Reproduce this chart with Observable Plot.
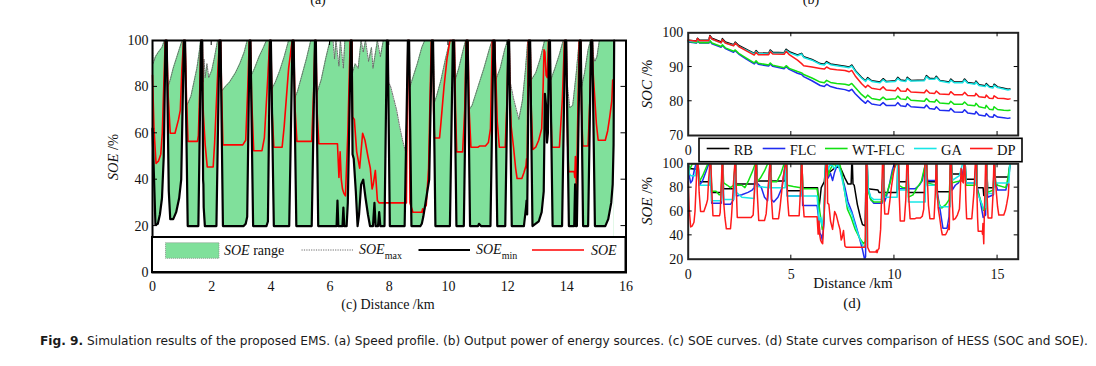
<!DOCTYPE html>
<html><head><meta charset="utf-8">
<script src="https://cdn.jsdelivr.net/npm/d3@7"></script>
<script src="https://cdn.jsdelivr.net/npm/@observablehq/plot@0.6"></script>
<style>
html,body{margin:0;padding:0;background:#fff;}
#root{position:relative;width:1096px;height:366px;overflow:hidden;background:#fff;}
.layer{position:absolute;left:0;top:0;}
.layer svg{display:block;}
</style></head><body><div id="root"></div>
<script>
// ---------- tick values ----------
const xTicksC = [0,2,4,6,8,10,12,14,16];
const yTicksC = [0,20,40,60,80,100];
const xTicksR = [0,5,10,15];
const xLabelsSOC = [0];            // the other SOC tick labels are hidden by the legend box
const yTicksSOC = [70,80,90,100];
const yTicksSOE = [20,40,60,80,100];
const seriesNames = ["RB","FLC","WT-FLC","GA","DP"];
const seriesColors = ["#000000","#1f2cf0","#12e012","#18e6e6","#ff1a1a"];

// ---------- (c) SOE curves: [distance km, value %] ----------
const soeMax = [[0,100],[0.02,90],[0.1,93],[0.2,95],[0.32,97],[0.4,100],[0.49,100],
[0.52,80],[0.6,83],[0.7,88],[0.8,92],[0.9,96],[1.0,100],[1.11,100],
[1.14,72],[1.2,73],[1.3,76],[1.4,82],[1.5,88],[1.58,95],[1.63,100],[1.69,100],
[1.71,82],[1.74,92],[1.78,84],[1.84,90],[1.9,84],[2.0,87],[2.1,93],[2.2,100],[2.31,100],
[2.33,78],[2.45,80],[2.6,82],[2.8,86],[2.95,90],[3.1,95],[3.2,100],[3.32,100],
[3.34,85],[3.45,88],[3.6,93],[3.75,97],[3.85,100],[4.01,100],
[4.03,79],[4.15,82],[4.3,87],[4.45,93],[4.6,100],[4.78,100],
[4.8,75],[4.9,78],[5.05,85],[5.2,92],[5.35,100],[5.53,100],
[5.55,77],[5.7,83],[5.85,92],[6.0,100],[6.1,100],[6.15,92],[6.2,100],[6.3,89],[6.35,100],[6.45,88],[6.5,100],[6.74,100],
[6.76,86],[6.85,90],[6.95,88],[7.05,100],[7.12,95],[7.2,100],[7.3,91],[7.4,97],[7.45,88],[7.55,96],[7.6,100],[7.7,93],[7.8,100],[7.96,100],
[7.98,82],[8.05,80],[8.15,75],[8.25,70],[8.35,63],[8.45,57],[8.55,52],[8.6,70],[8.63,100],[8.68,100],
[8.7,80],[8.8,84],[8.95,90],[9.1,97],[9.2,100],[9.49,100],
[9.52,73],[9.6,76],[9.75,83],[9.9,92],[10.05,100],[10.2,100],
[10.23,83],[10.35,88],[10.5,96],[10.58,100],[10.66,100],
[10.69,70],[10.8,72],[11.0,80],[11.2,88],[11.4,97],[11.48,100],[11.57,100],
[11.6,83],[11.75,88],[11.9,96],[12.0,100],[12.06,100],
[12.09,82],[12.2,75],[12.3,70],[12.38,66],[12.5,74],[12.6,87],[12.68,100],[12.77,100],
[12.8,83],[12.95,86],[13.1,92],[13.25,100],[13.44,100],
[13.46,83],[13.6,88],[13.75,94],[13.88,100],[13.99,100],
[14.01,82],[14.1,71],[14.2,72],[14.32,86],[14.42,100],[14.48,100],
[14.5,80],[14.6,86],[14.72,96],[14.8,100],[14.87,100],
[14.9,93],[14.95,91],[15.02,93],[15.1,100],[15.6,100]];

const soeMin = [[0,62],[0.1,20.5],[0.18,21],[0.25,25],[0.32,32],[0.38,50],[0.44,100],
[0.48,100],[0.55,35],[0.6,23],[0.7,23],[0.8,26],[0.9,32],[0.97,40],[1.06,100],
[1.1,100],[1.19,20],[1.55,20],[1.64,100],
[1.68,100],[1.71,40],[1.72,38],[1.73,28],[1.77,20],[2.16,20],[2.26,100],
[2.3,100],[2.38,20],[3.08,20],[3.15,21],[3.2,24],[3.28,100],
[3.31,100],[3.4,20],[3.85,20],[3.9,22],[3.97,100],
[4.0,100],[4.1,20],[4.62,20],[4.73,100],
[4.77,100],[4.86,20],[5.38,20],[5.49,100],
[5.52,100],[5.6,20],[6.22,20],[6.25,31],[6.28,20],[6.42,20],[6.45,28],[6.48,20],[6.56,20],[6.6,30],[6.7,100],
[6.73,100],[6.76,51],[6.8,49],[6.87,35],[6.93,20],[6.98,25],[7.05,38],[7.12,40],[7.2,32],[7.28,25],[7.35,20],[7.45,20],[7.5,30],[7.54,20],[7.62,20],[7.66,26],[7.7,20],[7.84,20],[7.92,100],
[7.95,100],[8.02,20],[8.52,20],[8.63,100],
[8.67,100],[8.75,20],[9.05,20],[9.1,21],[9.15,24],[9.25,32],[9.35,40],[9.44,100],
[9.48,100],[9.56,20],[10.05,20],[10.15,100],
[10.19,100],[10.27,20],[10.52,20],[10.61,100],
[10.65,100],[10.73,20],[11.0,20],[11.03,21],[11.1,20],[11.42,20],[11.52,100],
[11.56,100],[11.65,20],[11.92,20],[12.02,100],
[12.05,100],[12.14,20],[12.55,20],[12.62,28],[12.64,31],[12.66,25],[12.72,100],
[12.76,100],[12.84,20],[13.05,22],[13.15,26],[13.22,35],[13.26,77],[13.3,72],[13.33,56],[13.36,60],[13.4,100],
[13.43,100],[13.52,20],[13.84,20],[13.94,100],
[13.98,100],[14.07,20],[14.25,20],[14.28,38],[14.3,20],[14.34,20],[14.44,100],
[14.47,100],[14.55,20],[14.72,20],[14.82,100],
[14.86,100],[14.95,20],[15.3,20],[15.4,23],[15.5,30],[15.55,38],[15.58,55],[15.6,100]];

const soe = [[0,85],[0.05,62],[0.12,47],[0.2,48],[0.28,51],[0.33,60],[0.38,80],[0.43,100],
[0.48,100],[0.53,76],[0.6,60],[0.76,60],[0.88,66],[0.94,70],[0.99,87],[1.05,100],
[1.1,100],[1.15,75],[1.2,56.5],[1.52,56.5],[1.55,59],[1.6,80],[1.64,100],
[1.68,100],[1.7,75],[1.72,68],[1.78,55],[1.85,45.5],[2.05,45.5],[2.1,56],[2.2,85],[2.26,100],
[2.3,100],[2.34,75],[2.38,55],[3.05,55],[3.15,57],[3.22,80],[3.27,100],
[3.31,100],[3.35,75],[3.42,52.5],[3.7,52.5],[3.78,58],[3.9,85],[3.96,100],
[4.0,100],[4.04,70],[4.1,54],[4.38,54],[4.45,63],[4.6,88],[4.72,100],
[4.77,100],[4.82,70],[4.88,56.5],[5.38,56.5],[5.45,80],[5.49,100],
[5.52,100],[5.56,70],[5.62,55.5],[6.25,55.5],[6.3,41],[6.34,52],[6.38,40],[6.42,36],[6.47,34],[6.52,33],[6.6,60],[6.68,100],
[6.74,100],[6.76,67],[6.82,66],[6.9,52],[7.0,45],[7.1,60],[7.18,57],[7.28,50],[7.36,45],[7.42,36],[7.46,38],[7.53,44],[7.6,31],[7.66,30],[8.58,30],[8.63,100],
[8.67,100],[8.7,30],[8.8,26],[9.1,26],[9.13,27.5],[9.16,25.5],[9.2,28],[9.25,29],[9.33,45],[9.42,100],
[9.48,100],[9.5,70],[9.53,58],[9.7,58],[9.75,65],[9.85,80],[9.95,92],[10.05,100],
[10.2,100],[10.24,70],[10.28,52],[10.48,52],[10.55,70],[10.6,100],
[10.66,100],[10.7,70],[10.76,54],[11.0,54],[11.05,54.5],[11.25,54.5],[11.35,56],[11.42,62],[11.48,100],
[11.56,100],[11.6,85],[11.65,65],[11.72,54],[11.92,54],[11.98,75],[12.02,100],
[12.05,100],[12.08,75],[12.12,63],[12.2,54],[12.27,45],[12.32,40.5],[12.48,40.5],[12.55,43],[12.62,46],[12.64,49],[12.66,45],[12.7,100],
[12.76,100],[12.8,70],[12.85,53],[12.95,54],[13.05,57],[13.15,62],[13.2,80],[13.23,96],[13.26,95],[13.3,85],[13.34,84],[13.38,100],
[13.42,100],[13.46,70],[13.5,54],[13.75,54],[13.85,75],[13.92,100],
[13.98,100],[14.0,75],[14.03,55],[14.06,43.5],[14.25,43.5],[14.27,41],[14.29,50],[14.31,41],[14.33,33],[14.36,60],[14.42,100],
[14.47,100],[14.5,70],[14.54,54.5],[14.72,54.5],[14.78,75],[14.82,100],
[14.86,100],[14.88,88],[14.92,80],[15.0,64],[15.06,57],[15.3,57],[15.38,61],[15.45,67],[15.52,74],[15.55,83]];

// ---------- (d) SOC curves ----------
const socRB = [[0,97.8],[0.4,97.6],[0.45,98.4],[0.55,97.8],[1.0,97.8],[1.05,99.2],[1.15,98.4],[1.6,97.3],[1.66,98.3],[1.8,97.3],[2.2,96.5],[2.28,97.3],[2.45,96.3],[2.8,95.2],[3.2,94.0],[3.29,94.8],[3.4,94.1],[3.9,94.0],[3.98,95.0],[4.1,94.3],[4.65,94.2],[4.75,95.2],[4.9,94.5],[5.3,93.5],[5.5,94.0],[5.6,93.0],[6.0,92.2],[6.4,91.0],[6.6,90.8],[6.71,91.6],[6.9,90.9],[7.2,90.6],[7.6,90.2],[7.8,90.0],[7.93,90.6],[8.1,89.0],[8.4,87.0],[8.6,86.0],[8.7,86.9],[8.9,86.0],[9.3,85.6],[9.45,86.6],[9.6,85.8],[10.05,86.0],[10.16,87.0],[10.3,86.2],[10.55,86.0],[10.62,87.0],[10.8,86.1],[11.45,86.2],[11.55,87.5],[11.7,86.7],[11.95,86.6],[12.03,87.3],[12.2,86.1],[12.65,85.6],[12.73,86.5],[12.9,85.6],[13.3,85.6],[13.4,86.5],[13.55,85.5],[13.9,85.2],[13.95,85.9],[14.1,84.8],[14.4,84.5],[14.45,85.2],[14.6,84.3],[14.78,84.1],[14.83,85.0],[15.0,84.2],[15.3,83.8],[15.5,83.5],[15.6,83.6]];
const socFLC = [[0,97.3],[0.4,97.0],[0.45,97.6],[0.55,97.0],[1.0,97.0],[1.05,97.6],[1.15,96.8],[1.6,95.8],[1.66,96.3],[1.8,95.4],[2.2,94.3],[2.28,94.8],[2.45,93.8],[2.8,92.4],[3.2,90.9],[3.29,91.5],[3.4,90.8],[3.9,90.3],[3.98,90.9],[4.1,90.2],[4.65,89.5],[4.75,90.1],[4.9,89.3],[5.3,88.2],[5.5,87.8],[5.6,87.2],[6.0,86.0],[6.4,84.6],[6.6,84.3],[6.71,85.0],[6.9,84.3],[7.2,83.8],[7.6,83.4],[7.8,83.0],[7.93,83.5],[8.1,82.2],[8.4,80.4],[8.6,79.4],[8.7,80.2],[8.9,79.2],[9.3,78.8],[9.45,79.6],[9.6,78.8],[10.05,78.8],[10.16,79.6],[10.3,78.7],[10.55,78.5],[10.62,79.3],[10.8,78.4],[11.45,78.1],[11.55,78.9],[11.7,77.9],[11.95,77.7],[12.03,78.4],[12.2,77.4],[12.65,77.2],[12.73,77.9],[12.9,76.9],[13.3,76.8],[13.4,77.5],[13.55,76.6],[13.9,76.3],[13.95,77.0],[14.1,76.0],[14.4,75.7],[14.45,76.4],[14.6,75.5],[14.78,75.3],[14.83,76.1],[15.0,75.4],[15.3,75.2],[15.5,75.0],[15.6,75.1]];
const socWT = [[0,97.5],[0.4,97.1],[0.45,97.7],[0.55,97.1],[1.0,97.1],[1.05,97.8],[1.15,97.0],[1.6,96.0],[1.66,96.5],[1.8,95.6],[2.2,94.6],[2.28,95.0],[2.45,94.0],[2.8,92.7],[3.2,91.2],[3.29,91.8],[3.4,91.1],[3.9,90.6],[3.98,91.2],[4.1,90.5],[4.65,89.8],[4.75,90.4],[4.9,89.6],[5.3,88.7],[5.5,88.3],[5.6,87.8],[6.0,86.8],[6.4,85.6],[6.6,85.4],[6.71,86.1],[6.9,85.5],[7.2,85.2],[7.6,85.0],[7.8,84.7],[7.93,85.2],[8.1,84.0],[8.4,82.0],[8.6,81.0],[8.7,81.8],[8.9,80.8],[9.3,80.4],[9.45,81.2],[9.6,80.5],[10.05,80.7],[10.16,81.5],[10.3,80.7],[10.55,80.5],[10.62,81.3],[10.8,80.3],[11.45,80.0],[11.55,80.8],[11.7,79.9],[11.95,79.8],[12.03,80.5],[12.2,79.5],[12.65,79.3],[12.73,80.0],[12.9,79.1],[13.3,79.1],[13.4,79.8],[13.55,78.9],[13.9,78.7],[13.95,79.4],[14.1,78.4],[14.4,78.0],[14.45,78.8],[14.6,77.7],[14.78,77.5],[14.83,78.4],[15.0,77.6],[15.3,77.4],[15.5,77.3],[15.6,77.4]];
const socGA = [[0,97.6],[0.4,97.4],[0.45,98.2],[0.55,97.6],[1.0,97.6],[1.05,98.9],[1.15,98.1],[1.6,97.0],[1.66,98.0],[1.8,97.0],[2.2,96.3],[2.28,97.0],[2.45,96.0],[2.8,95.0],[3.2,93.8],[3.29,94.5],[3.4,93.9],[3.9,93.8],[3.98,94.7],[4.1,94.0],[4.65,94.0],[4.75,94.9],[4.9,94.2],[5.3,93.3],[5.5,93.8],[5.6,92.8],[6.0,92.0],[6.4,90.8],[6.6,90.6],[6.71,91.3],[6.9,90.7],[7.2,90.4],[7.6,90.0],[7.8,89.8],[7.93,90.3],[8.1,88.8],[8.4,86.8],[8.6,85.8],[8.7,86.6],[8.9,85.8],[9.3,85.4],[9.45,86.3],[9.6,85.6],[10.05,85.8],[10.16,86.7],[10.3,86.0],[10.55,85.8],[10.62,86.7],[10.8,85.9],[11.45,86.0],[11.55,87.2],[11.7,86.4],[11.95,86.4],[12.03,87.0],[12.2,85.9],[12.65,85.4],[12.73,86.2],[12.9,85.4],[13.3,85.4],[13.4,86.2],[13.55,85.3],[13.9,85.0],[13.95,85.6],[14.1,84.6],[14.4,84.3],[14.45,84.9],[14.6,84.1],[14.78,83.9],[14.83,84.7],[15.0,84.0],[15.3,83.6],[15.5,83.3],[15.6,83.4]];
const socDP = [[0,97.8],[0.4,97.5],[0.45,98.3],[0.55,97.7],[1.0,97.7],[1.05,99.0],[1.15,98.2],[1.6,97.1],[1.66,98.0],[1.8,97.0],[2.2,96.2],[2.28,97.0],[2.45,96.0],[2.8,94.8],[3.2,93.5],[3.29,94.3],[3.4,93.6],[3.9,93.6],[3.98,94.5],[4.1,93.8],[4.65,93.7],[4.75,94.6],[4.9,93.6],[5.3,92.0],[5.5,91.0],[5.6,90.4],[6.0,90.0],[6.4,89.6],[6.6,89.4],[6.71,90.0],[6.9,89.4],[7.2,89.2],[7.6,89.0],[7.8,88.6],[7.93,89.0],[8.1,87.4],[8.4,85.2],[8.6,84.0],[8.7,84.7],[8.9,83.8],[9.3,83.4],[9.45,84.2],[9.6,83.3],[10.05,83.1],[10.16,84.0],[10.3,83.0],[10.55,82.9],[10.62,83.7],[10.8,82.7],[11.45,82.5],[11.55,83.3],[11.7,82.4],[11.95,82.3],[12.03,83.0],[12.2,82.1],[12.65,82.0],[12.73,82.8],[12.9,81.9],[13.3,81.9],[13.4,82.6],[13.55,81.7],[13.9,81.6],[13.95,82.3],[14.1,81.3],[14.4,81.1],[14.45,81.8],[14.6,80.9],[14.78,80.8],[14.83,81.6],[15.0,80.9],[15.3,80.8],[15.5,80.6],[15.6,80.7]];

// ---------- (d) SOE curves (DP equals the SOE of panel c) ----------
const soeRB = [[0,100],[0.06,96],[0.38,95.5],[0.43,100],[0.48,100],[0.52,85],[1.03,85],[1.07,100],[1.1,100],[1.13,76],[1.61,76],[1.65,100],[1.68,100],[1.71,79],[2.24,79],[2.27,100],[2.3,100],[2.33,83],[3.25,83],[3.28,100],[3.31,100],[3.34,85.5],[3.95,85.5],[3.97,100],[4.0,100],[4.03,85.5],[4.7,85.5],[4.73,100],[4.77,100],[4.8,77.5],[5.46,77.5],[5.49,100],[5.52,100],[5.55,80],[6.27,80],[6.3,72],[6.33,62],[6.36,66],[6.4,72],[6.45,80],[6.6,85],[6.68,100],[6.74,100],[6.78,92],[7.0,95],[7.2,98],[7.4,96],[7.6,88],[7.75,83],[7.9,83],[7.93,100],[7.96,100],[7.99,83],[8.05,82],[8.2,66],[8.35,55],[8.45,49],[8.58,48],[8.63,100],[8.67,100],[8.7,79],[9.2,78],[9.25,76],[9.42,76],[9.45,100],[9.48,100],[9.51,76],[10.13,76],[10.16,100],[10.19,100],[10.22,85],[10.59,85],[10.62,100],[10.65,100],[10.68,76],[11.49,76],[11.52,100],[11.56,100],[11.59,85],[12.0,85],[12.03,100],[12.05,100],[12.08,76.5],[12.7,76.5],[12.73,100],[12.76,100],[12.79,91.5],[13.37,91.5],[13.4,100],[13.43,100],[13.46,87],[13.92,87],[13.95,100],[13.98,100],[14.01,80],[14.3,80],[14.33,73.5],[14.43,73.5],[14.45,100],[14.48,100],[14.51,80],[14.8,80],[14.83,100],[14.86,100],[14.89,89],[15.55,89],[15.6,100]];
const soeFLC = [[0,100],[0.05,90],[0.12,84],[0.2,86],[0.3,95],[0.38,100],[0.48,100],[0.55,82],[0.7,86],[0.85,93],[1.0,100],[1.1,100],[1.14,67],[1.6,67],[1.65,100],[1.68,100],[1.72,66],[2.05,66],[2.2,70],[2.27,100],[2.3,100],[2.34,73],[2.6,74],[2.9,76],[3.1,78],[3.2,80],[3.28,100],[3.31,100],[3.34,84],[3.55,80],[3.7,72],[3.85,69],[3.96,100],[4.0,100],[4.04,70],[4.15,68],[4.35,72],[4.55,80],[4.7,100],[4.77,100],[4.8,73],[5.46,73],[5.49,100],[5.52,100],[5.55,65],[6.25,65],[6.32,55],[6.38,42],[6.45,40],[6.5,36],[6.58,50],[6.66,100],[6.74,100],[6.78,88],[6.9,92],[7.0,86],[7.1,93],[7.25,100],[7.35,96],[7.45,90],[7.6,80],[7.75,68],[7.93,60],[8.1,50],[8.3,38],[8.45,28],[8.55,20],[8.6,22],[8.64,100],[8.68,100],[8.72,80],[8.85,70],[9.0,67],[9.4,67],[9.45,100],[9.48,100],[9.52,68],[9.6,72],[9.75,82],[9.9,95],[10.0,100],[10.19,100],[10.22,79],[10.58,79],[10.62,100],[10.65,100],[10.68,79],[11.0,79],[11.2,82],[11.35,86],[11.5,100],[11.56,100],[11.6,86],[12.0,86],[12.03,100],[12.05,100],[12.08,76],[12.2,63],[12.35,46],[12.55,46],[12.65,56],[12.72,100],[12.76,100],[12.8,78],[12.95,82],[13.1,84],[13.25,88],[13.4,100],[13.43,100],[13.47,84],[13.9,84],[13.95,100],[13.98,100],[14.02,80],[14.15,70],[14.3,55],[14.42,57],[14.45,100],[14.48,100],[14.52,72],[14.8,74],[14.83,100],[14.86,100],[14.9,84],[15.0,78],[15.4,78],[15.5,85],[15.6,100]];
const soeWT = [[0,100],[0.05,95],[0.12,97],[0.2,100],[0.48,100],[0.54,85],[0.7,90],[0.85,96],[0.95,100],[1.1,100],[1.14,77],[1.35,77],[1.5,74],[1.6,74],[1.65,100],[1.68,100],[1.72,84],[1.9,82],[2.05,80],[2.2,82],[2.27,100],[2.3,100],[2.34,82],[2.6,82],[2.75,80],[2.9,85],[3.1,93],[3.25,100],[3.31,100],[3.34,85],[3.5,88],[3.7,94],[3.85,100],[4.0,100],[4.04,85],[4.3,85],[4.5,92],[4.65,100],[4.77,100],[4.8,82],[5.1,81],[5.46,80],[5.49,100],[5.52,100],[5.55,79],[6.25,79],[6.32,70],[6.38,60],[6.45,52],[6.5,45],[6.58,55],[6.66,100],[6.74,100],[6.78,90],[6.9,96],[7.05,100],[7.2,98],[7.35,100],[7.45,92],[7.6,75],[7.72,62],[7.9,55],[8.1,45],[8.3,38],[8.5,33],[8.6,35],[8.64,100],[8.68,100],[8.72,78],[8.85,70],[9.0,68],[9.4,68],[9.45,100],[9.48,100],[9.52,72],[9.65,76],[9.8,85],[9.95,95],[10.1,100],[10.19,100],[10.22,82],[10.4,80],[10.58,80],[10.62,100],[10.65,100],[10.68,72],[10.9,74],[11.1,80],[11.3,85],[11.5,100],[11.56,100],[11.6,84],[12.0,82],[12.03,100],[12.05,100],[12.08,72],[12.2,65],[12.3,63],[12.5,66],[12.65,70],[12.72,100],[12.76,100],[12.8,84],[13.0,85],[13.35,86],[13.4,100],[13.43,100],[13.47,82],[13.9,82],[13.95,100],[13.98,100],[14.02,78],[14.2,68],[14.32,61],[14.42,62],[14.45,100],[14.48,100],[14.52,76],[14.8,78],[14.83,100],[14.86,100],[14.9,85],[15.0,82],[15.4,80],[15.5,88],[15.6,100]];
const soeGA = [[0,100],[0.05,92],[0.12,90],[0.35,90],[0.42,100],[0.48,100],[0.52,82],[1.03,82],[1.07,100],[1.1,100],[1.13,69],[1.61,69],[1.65,100],[1.68,100],[1.72,70],[2.2,70],[2.27,100],[2.3,100],[2.34,76],[2.6,72],[3.2,71],[3.28,100],[3.31,100],[3.34,81],[3.95,80],[3.97,100],[4.0,100],[4.03,80],[4.7,80],[4.73,100],[4.77,100],[4.8,73],[5.46,73],[5.49,100],[5.52,100],[5.55,73],[6.25,73],[6.3,62],[6.36,50],[6.42,55],[6.5,48],[6.58,60],[6.66,100],[6.74,100],[6.78,95],[6.9,100],[7.1,96],[7.25,100],[7.4,92],[7.55,80],[7.7,66],[7.93,58],[8.1,48],[8.3,38],[8.5,30],[8.6,32],[8.64,100],[8.68,100],[8.72,80],[8.85,72],[9.0,70],[9.4,70],[9.45,100],[9.48,100],[9.52,72],[10.13,72],[10.16,100],[10.19,100],[10.22,78],[10.59,78],[10.62,100],[10.65,100],[10.68,68],[11.49,68],[11.52,100],[11.56,100],[11.59,82],[12.0,82],[12.03,100],[12.05,100],[12.08,70],[12.2,64],[12.7,64],[12.73,100],[12.76,100],[12.79,86],[13.15,90],[13.3,100],[13.43,100],[13.46,84],[13.92,84],[13.95,100],[13.98,100],[14.01,76],[14.2,68],[14.33,62],[14.43,64],[14.45,100],[14.48,100],[14.51,75],[14.8,75],[14.83,100],[14.86,100],[14.89,84],[15.55,84],[15.6,100]];
const soeDP = soe;

// ---------- rendering ----------
const root = document.getElementById("root");
const SERIF = "'Liberation Serif','Times New Roman',serif";
const GREEN = "#80e09b";
const X = d => d[0], Y = d => d[1];

function place(el){ const d = document.createElement("div"); d.className = "layer"; d.appendChild(el); root.appendChild(d); return el; }

function innerTicks(chart, xt, yt, len){
  const sx = chart.scale("x"), sy = chart.scale("y");
  const [xl, xr] = sx.range, [yb, ytp] = sy.range;
  const g = d3.select(chart).append("g").attr("stroke", "#000").attr("stroke-width", 1);
  for (const v of xt){ const p = sx.apply(v); if (p <= xl + 1 || p >= xr - 1) continue;
    g.append("line").attr("x1", p).attr("x2", p).attr("y1", yb).attr("y2", yb - len);
    g.append("line").attr("x1", p).attr("x2", p).attr("y1", ytp).attr("y2", ytp + len); }
  for (const v of yt){ const p = sy.apply(v); if (p >= yb - 1 || p <= ytp + 1) continue;
    g.append("line").attr("y1", p).attr("y2", p).attr("x1", xl).attr("x2", xl + len);
    g.append("line").attr("y1", p).attr("y2", p).attr("x1", xr).attr("x2", xr - len); }
}

const baseStyle = {fontFamily: SERIF, fontSize: "14px", background: "transparent", color: "#111", overflow: "visible"};

// (c)
const chartC = Plot.plot({
  width: 640, height: 310, marginLeft: 152, marginRight: 14.5, marginTop: 40, marginBottom: 38,
  x: {domain: [0, 16]}, y: {domain: [0, 100]}, style: baseStyle,
  marks: [
    Plot.areaY(soeMax, {x: X, y: Y, fill: GREEN}),
    Plot.areaY(soeMin, {x: X, y: Y, fill: "white"}),
    Plot.line(soeMax, {x: X, y: Y, stroke: "#6a6a6a", strokeWidth: 1, strokeDasharray: "1.2,1.2"}),
    Plot.line(soe, {x: X, y: Y, stroke: "#ff0000", strokeWidth: 1.6}),
    Plot.line(soeMin, {x: X, y: Y, stroke: "#000", strokeWidth: 2.2}),
    Plot.frame({stroke: "#000", strokeWidth: 2}),
    Plot.axisX({ticks: xTicksC, tickSize: 0, tickPadding: 8.5, label: null}),
    Plot.axisY({ticks: yTicksC, tickSize: 0, tickPadding: 4, label: null})
  ]
});
innerTicks(chartC, xTicksC, yTicksC, 5);
place(chartC);

const socSeries = [socRB, socFLC, socWT, socGA, socDP];
const soeSeries = [soeRB, soeFLC, soeWT, soeGA, soeDP];

// (d) top: SOC
const chartSOC = Plot.plot({
  width: 1040, height: 160, marginLeft: 687.7, marginRight: 22.3, marginTop: 32.3, marginBottom: 25,
  x: {domain: [0, 16]}, y: {domain: [70, 100]}, style: baseStyle,
  marks: [
    ...socSeries.map((s, i) => Plot.line(s, {x: X, y: Y, stroke: seriesColors[i], strokeWidth: 1.5})),
    Plot.frame({stroke: "#222", strokeWidth: 2}),
    Plot.axisX({ticks: xLabelsSOC, tickSize: 0, tickPadding: 10, label: null}),
    Plot.axisY({ticks: yTicksSOC, tickSize: 0, tickPadding: 5, label: null})
  ]
});
innerTicks(chartSOC, xTicksR, yTicksSOC, 4);
place(chartSOC);

// (d) bottom: SOE
const chartSOE = Plot.plot({
  width: 1040, height: 290, marginLeft: 687.7, marginRight: 22.3, marginTop: 163.3, marginBottom: 31.3,
  x: {domain: [0, 16]}, y: {domain: [20, 100]}, style: baseStyle,
  marks: [
    ...soeSeries.map((s, i) => Plot.line(s, {x: X, y: Y, stroke: seriesColors[i], strokeWidth: 1.5})),
    Plot.frame({stroke: "#222", strokeWidth: 2}),
    Plot.axisX({ticks: xTicksR, tickSize: 0, tickPadding: 9.5, label: null}),
    Plot.axisY({ticks: yTicksSOE, tickSize: 0, tickPadding: 5, label: null})
  ]
});
innerTicks(chartSOE, xTicksR, yTicksSOE, 4);
place(chartSOE);

// ---------- overlay: labels, legends, caption ----------
const ov = d3.create("svg").attr("width", 1096).attr("height", 366)
  .style("font-family", SERIF).style("pointer-events", "none");
function text(x, y, parts, o = {}){
  const t = ov.append("text").attr("x", x).attr("y", y).attr("font-size", o.size || 14)
    .attr("text-anchor", o.anchor || "start").attr("fill", o.fill || "#111");
  if (o.rotate) t.attr("transform", `rotate(-90 ${x} ${y})`);
  if (o.family) t.attr("font-family", o.family);
  for (const p of parts){
    const s = t.append("tspan").text(p.t);
    if (p.i) s.attr("font-style", "italic");
    if (p.b) s.attr("font-weight", "bold");
    if (p.sub) s.attr("font-size", p.sub).attr("baseline-shift", p.shift || "-30%");
  }
  return t;
}
// panel labels of the figure above, cropped by the top edge as in the source
text(318, 4, [{t: "(a)"}], {anchor: "middle", size: 14});
text(811, 4, [{t: "(b)"}], {anchor: "middle", size: 14});

// axis titles
text(118, 157, [{t: "SOE", i: 1}, {t: " /%"}], {anchor: "middle", rotate: 1, size: 14.5});
text(388, 309, [{t: "(c) Distance /km"}], {anchor: "middle", size: 14});
text(652, 84, [{t: "SOC", i: 1}, {t: " /%"}], {anchor: "middle", rotate: 1, size: 15});
text(652, 201, [{t: "SOE", i: 1}, {t: " /%"}], {anchor: "middle", rotate: 1, size: 15});
text(853, 288, [{t: "Distance /km"}], {anchor: "middle", size: 15});
text(852, 308, [{t: "(d)"}], {anchor: "middle", size: 15});

// legend (c)
ov.append("rect").attr("x", 152).attr("y", 237).attr("width", 473.5).attr("height", 35)
  .attr("fill", "#fff").attr("stroke", "#000").attr("stroke-width", 2);
ov.append("rect").attr("x", 165.5).attr("y", 242.7).attr("width", 53.5).attr("height", 15.6)
  .attr("fill", GREEN).attr("stroke", "#888").attr("stroke-width", 0.8).attr("stroke-dasharray", "1,1");
text(224, 255, [{t: "SOE", i: 1}, {t: " range"}], {size: 14});
ov.append("line").attr("x1", 301.5).attr("x2", 353).attr("y1", 250).attr("y2", 250)
  .attr("stroke", "#6a6a6a").attr("stroke-width", 1).attr("stroke-dasharray", "1.2,1.2");
text(359, 254, [{t: "SOE", i: 1}, {t: "max", sub: 10, shift: "-45%"}], {size: 14});
ov.append("line").attr("x1", 418.5).attr("x2", 470).attr("y1", 250).attr("y2", 250)
  .attr("stroke", "#000").attr("stroke-width", 2.2);
text(476, 254, [{t: "SOE", i: 1}, {t: "min", sub: 10, shift: "-45%"}], {size: 14});
ov.append("line").attr("x1", 532).attr("x2", 584).attr("y1", 250).attr("y2", 250)
  .attr("stroke", "#ff0000").attr("stroke-width", 1.7);
text(591, 255, [{t: "SOE", i: 1}], {size: 14});

// legend (d)
ov.append("rect").attr("x", 699).attr("y", 138.3).attr("width", 323).attr("height", 23.4)
  .attr("fill", "#fff").attr("stroke", "#000").attr("stroke-width", 1.6);
const legX = [706.7, 762.7, 825, 914, 970];
seriesNames.forEach((n, i) => {
  ov.append("line").attr("x1", legX[i]).attr("x2", legX[i] + 22.6).attr("y1", 148.5).attr("y2", 148.5)
    .attr("stroke", seriesColors[i]).attr("stroke-width", 1.6);
  text(legX[i] + 27, 155, [{t: n}], {size: 14.5});
});

// caption
const cap = text(40, 345, [{t: "Fig. 9.", b: 1}, {t: " Simulation results of the proposed EMS. (a) Speed profile. (b) Output power of energy sources. (c) SOE curves. (d) State curves comparison of HESS (SOC and SOE)."}],
  {size: 13, family: "'Liberation Sans Narrow','DejaVu Sans Condensed','Roboto',sans-serif", fill: "#1a1a1a"});
cap.attr("textLength", 1048).attr("lengthAdjust", "spacingAndGlyphs");

place(ov.node());
</script></body></html>
